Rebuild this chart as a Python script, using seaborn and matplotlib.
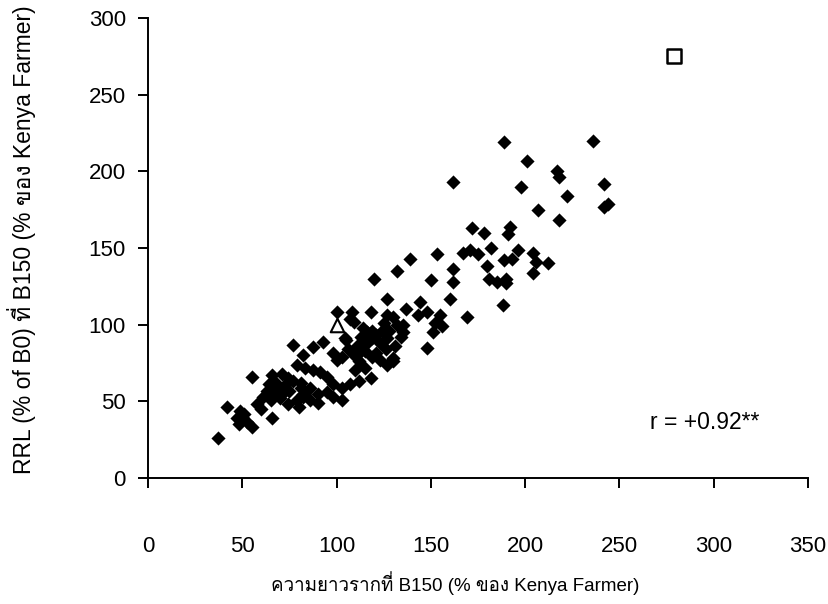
import matplotlib
matplotlib.use("Agg")
import matplotlib.pyplot as plt
from matplotlib import font_manager as fm
import seaborn as sns
import pandas as pd

# ---------------- data ----------------
x_vals = [189, 201, 217, 218, 236, 198, 222, 242, 242, 244, 207, 218, 192, 191, 196, 189, 193, 204, 206, 212,
          204, 190, 172, 178, 153, 139, 167, 171, 175, 182, 180, 162, 162, 150, 181, 185, 190, 160, 188, 132,
          120, 144, 137, 143, 148, 155, 152, 156, 151, 169, 135, 135, 148, 127, 162,
          108, 109, 118, 114, 119, 125, 130, 132, 134, 127, 123, 119, 116, 104.5, 112, 121, 130, 100, 107, 127,
          105, 77, 93, 87.5, 82, 98, 100, 103, 109, 112, 110, 115, 119, 123, 127, 130, 118, 112, 107, 103,
          98, 95, 91, 87.5, 83, 79, 66, 71, 74, 68, 73, 63, 67, 71, 75, 81, 82, 81, 86, 90,
          95, 82, 79, 86, 90, 98, 103, 65, 70, 61, 58, 60, 74, 80, 55, 42, 49, 51, 50, 47,
          48, 52.5, 55, 66, 37,
          116, 121, 111, 126, 131, 106, 115, 124, 113, 128, 77, 64, 70]
y_vals = [219, 207, 200, 196, 220, 190, 184, 192, 177, 179, 175, 168, 164, 159, 149, 142, 143, 147, 141, 140,
          134, 130, 163, 160, 146, 143, 147, 149, 146, 150, 138, 136, 128, 129, 130, 128, 127, 117, 113, 135,
          130, 115, 110, 106, 108, 106, 101, 99, 95, 105, 100, 95, 85, 117, 193,
          108, 102, 108, 98, 96, 101, 105, 100, 92, 91, 88, 91, 88, 91, 81.5, 81.5, 78, 108, 104, 106,
          90, 87, 89, 85.5, 80, 81.5, 77, 79, 80, 76, 70.5, 72, 79, 77, 74, 76, 65, 63, 61, 59,
          61, 66, 69, 70.5, 72, 74, 67, 68, 65, 62, 61, 57, 56, 55, 57, 62, 55, 59, 59, 55,
          56, 53, 51, 51, 49, 53, 51, 51, 52, 53, 48, 45, 48, 46, 66, 46, 44, 42, 40, 39,
          35, 36.5, 33, 39, 26,
          95, 93, 86, 84, 86, 84, 83, 96, 92, 96, 63, 61, 59]
tri_x = [100]
tri_y = [100]
sq_x = [279]
sq_y = [275]
x_ticks = [0, 50, 100, 150, 200, 250, 300, 350]
y_ticks = [0, 50, 100, 150, 200, 250, 300]
x_label = "ความยาวรากที่ B150 (% ของ Kenya Farmer)"
y_label = "RRL (% of B0) ที่ B150 (% ของ Kenya Farmer)"
r_text = "r = +0.92**"


def find_thai_font():
    try:
        from fontTools.ttLib import TTFont
    except Exception:
        return None
    seen = set()
    for f in fm.fontManager.ttflist:
        if f.fname in seen:
            continue
        seen.add(f.fname)
        try:
            tt = TTFont(f.fname, fontNumber=0, lazy=True)
            cmap = tt.getBestCmap()
            if cmap and 0x0E01 in cmap and 0x0E35 in cmap and 0x0E49 in cmap:
                return f.name
        except Exception:
            pass
    return None


sns.set_theme(style="ticks")
thai = find_thai_font()
families = ["Liberation Sans"] + ([thai] if thai else []) + ["DejaVu Sans"]
plt.rcParams["font.family"] = families
plt.rcParams["axes.unicode_minus"] = False

df = pd.DataFrame({"x": x_vals, "y": y_vals})
df_tri = pd.DataFrame({"x": tri_x, "y": tri_y})
df_sq = pd.DataFrame({"x": sq_x, "y": sq_y})

fig = plt.figure(figsize=(8.29, 6.04), dpi=100)
ax = fig.add_axes([148 / 829, 1 - 478 / 604, 660 / 829, 460 / 604])

sns.scatterplot(data=df, x="x", y="y", marker="D", color="black", s=52,
                linewidth=0, ax=ax, legend=False, zorder=3)
sns.scatterplot(data=df_tri, x="x", y="y", marker="^", s=95, facecolor="white",
                edgecolor="black", linewidth=1.5, ax=ax, legend=False, zorder=4)
sns.scatterplot(data=df_sq, x="x", y="y", marker="s", s=95, facecolor="white",
                edgecolor="black", linewidth=1.8, ax=ax, legend=False, zorder=4)

ax.set_xlim(0, 350)
ax.set_ylim(0, 300)
ax.set_xticks(x_ticks)
ax.set_yticks(y_ticks)
ax.set_xticklabels([str(t) for t in x_ticks])
ax.set_yticklabels([str(t) for t in y_ticks])
sns.despine(ax=ax)
for s in ["left", "bottom"]:
    ax.spines[s].set_color("black")
    ax.spines[s].set_linewidth(1.4)
ax.tick_params(axis="y", direction="out", length=7, width=1.4, color="black",
               labelsize=16, pad=9, labelcolor="black")
ax.tick_params(axis="x", direction="out", length=7, width=1.4, color="black",
               labelsize=16, pad=35, labelcolor="black")

ax.set_xlabel(x_label, fontsize=13.5, color="black")
ax.set_ylabel(y_label, fontsize=16.5, color="black")
ax.xaxis.label.set_va("center")
ax.yaxis.label.set_va("center")
ax.xaxis.set_label_coords((455 - 148) / 660, -(583 - 478) / 460)
ax.yaxis.set_label_coords((22 - 148) / 660, (478 - 240) / 460)

ax.text(266, 36, r_text, fontsize=16.5, color="black", va="center", ha="left")

fig.savefig("out.png", dpi=100)
